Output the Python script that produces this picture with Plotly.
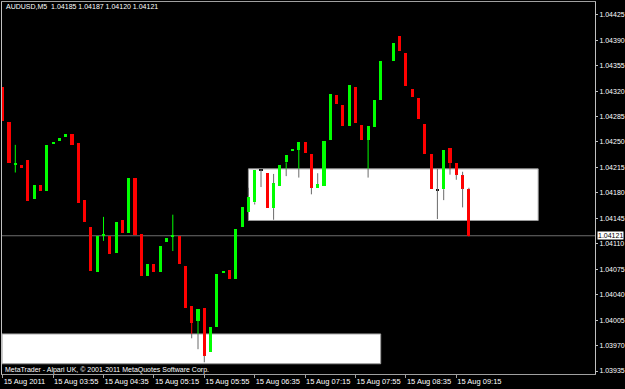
import plotly.graph_objects as go
from datetime import datetime, timedelta

# ---------------- data ----------------
symbol = "AUDUSD,M5"
start_time = datetime(2011, 8, 15, 3, 15)
bar_minutes = 5

opens = [1.04325, 1.04277, 1.04219, 1.04219, 1.04225, 1.04172, 1.04191, 1.04182, 1.04247, 1.04252,
         1.04257, 1.04261, 1.04248, 1.04170, 1.04133, 1.04071, 1.04121, 1.04121, 1.04097, 1.04142,
         1.04125, 1.04201, 1.04124, 1.04066, 1.04082, 1.04071, 1.04112, 1.04120, 1.04121, 1.04080,
         1.04025, 1.04004, 1.04021, 1.03961, 1.03996, 1.04071, 1.04074, 1.04061, 1.04133, 1.04154,
         1.04167, 1.04212, 1.04207, 1.04159, 1.04190, 1.04222, 1.04238, 1.04239, 1.04250, 1.04233,
         1.04187, 1.04189, 1.04253, 1.04315, 1.04301, 1.04272, 1.04326, 1.04274, 1.04253, 1.04271,
         1.04308, None, 1.04362, 1.04396, 1.04372, 1.04323, 1.04311, 1.04275, 1.04233, 1.04184,
         1.04185, 1.04242, 1.04221, 1.04204, 1.04185]
highs = [1.04325, 1.04277, 1.04246, 1.04219, 1.04225, 1.04191, 1.04191, 1.04246, 1.04250, 1.04256,
         1.04261, 1.04261, 1.04248, 1.04170, 1.04133, 1.04120, 1.04147, 1.04121, 1.04140, 1.04142,
         1.04201, 1.04201, 1.04124, 1.04082, 1.04082, 1.04107, 1.04118, 1.04150, 1.04121, 1.04080,
         1.04025, 1.04020, 1.04021, 1.03995, 1.04069, 1.04072, 1.04074, 1.04130, 1.04160, 1.04187,
         1.04212, 1.04212, 1.04207, 1.04206, 1.04219, 1.04232, 1.04239, 1.04250, 1.04250, 1.04233,
         1.04207, 1.04251, 1.04316, 1.04315, 1.04301, 1.04328, 1.04326, 1.04274, 1.04272, 1.04308,
         1.04362, None, 1.04386, 1.04396, 1.04372, 1.04323, 1.04311, 1.04275, 1.04233, 1.04213,
         1.04239, 1.04242, 1.04221, 1.04209, 1.04187]
lows = [1.04279, 1.04221, 1.04208, 1.04214, 1.04169, 1.04172, 1.04182, 1.04182, 1.04247, 1.04252,
        1.04257, 1.04246, 1.04166, 1.04140, 1.04073, 1.04071, 1.04114, 1.04096, 1.04097, 1.04125,
        1.04125, 1.04122, 1.04066, 1.04066, 1.04071, 1.04071, 1.04112, 1.04100, 1.04082, 1.04021,
        1.03980, 1.03965, 1.03947, 1.03961, 1.03996, 1.04071, 1.04061, 1.04061, 1.04133, 1.04154,
        1.04164, 1.04188, 1.04159, 1.04143, 1.04190, 1.04203, 1.04238, 1.04201, 1.04235, 1.04178,
        1.04187, 1.04189, 1.04253, 1.04302, 1.04272, 1.04272, 1.04276, 1.04253, 1.04201, 1.04271,
        1.04308, None, 1.04362, 1.04375, 1.04327, 1.04312, 1.04281, 1.04233, 1.04185, 1.04144,
        1.04170, 1.04205, 1.04198, 1.04160, 1.04120]
closes = [1.04279, 1.04221, 1.04220, 1.04214, 1.04169, 1.04191, 1.04182, 1.04246, 1.04250, 1.04256,
          1.04261, 1.04246, 1.04166, 1.04140, 1.04073, 1.04120, 1.04123, 1.04096, 1.04140, 1.04125,
          1.04201, 1.04122, 1.04066, 1.04082, 1.04071, 1.04107, 1.04118, 1.04121, 1.04082, 1.04021,
          1.04001, 1.04020, 1.03956, 1.03995, 1.04069, 1.04072, 1.04061, 1.04130, 1.04160, 1.04175,
          1.04212, 1.04212, 1.04159, 1.04193, 1.04219, 1.04232, 1.04239, 1.04250, 1.04235, 1.04187,
          1.04192, 1.04251, 1.04316, 1.04302, 1.04272, 1.04328, 1.04276, 1.04253, 1.04272, 1.04308,
          1.04362, None, 1.04386, 1.04375, 1.04327, 1.04312, 1.04281, 1.04233, 1.04185, 1.04184,
          1.04239, 1.04221, 1.04205, 1.04186, 1.04121]

bid = 1.04121

price_ticks = [round(1.04425 - 0.00035 * k, 5) for k in range(15)]
time_tick_bars = list(range(0, 73, 8))

# rectangle zones drawn on the chart (bar index span, price span)
zone_x0 = [39, None]
zone_x1 = [85, 60]
zone_top = [1.04213, 1.03986]
zone_bottom = [1.04142, 1.03945]

# ---------------- style ----------------
UP = "#00ff00"
DOWN = "#ff0000"
DOJI_IN_ZONE = "#141414"
WICK_IN_ZONE = "#6a6a6a"
TEXT = "#ffffff"
FONT = "Liberation Sans"
X_RANGE = [-0.111, 94.016]
Y_RANGE = [1.039309, 1.0444247]
MIN_BODY = 0.000016

n = len(opens)
xs = list(range(n))

time_labels = []
for b in time_tick_bars:
    t = start_time + timedelta(minutes=bar_minutes * b)
    time_labels.append("15 Aug 2011" if b == 0 else t.strftime("%d %b %H:%M"))

zx0 = [X_RANGE[0] if v is None else v for v in zone_x0]


def in_zone(i, p):
    for a, b, top, bot in zip(zx0, zone_x1, zone_top, zone_bottom):
        if a <= i <= b and bot <= p <= top:
            return True
    return False


# bodies
bx, by, bbase, bcol = [], [], [], []
for i in xs:
    o, c = opens[i], closes[i]
    if o is None:
        continue
    lo, hi = min(o, c), max(o, c)
    h = max(hi - lo, MIN_BODY)
    mid = (lo + hi) / 2
    bx.append(i)
    by.append(h)
    bbase.append(mid - h / 2)
    if c > o:
        bcol.append(UP)
    elif c < o:
        bcol.append(DOWN)
    else:
        bcol.append(DOJI_IN_ZONE if in_zone(i, o) else UP)

# wicks (split into the part over a zone and the part over the black background)
seg = {UP: ([], []), DOWN: ([], []), WICK_IN_ZONE: ([], [])}
for i in xs:
    o, c, h, l = opens[i], closes[i], highs[i], lows[i]
    if o is None:
        continue
    col = DOWN if c < o else UP
    for lo, hi in ((l, min(o, c)), (max(o, c), h)):
        if hi - lo <= 0:
            continue
        cuts = [lo, hi]
        for a, b, top, bot in zip(zx0, zone_x1, zone_top, zone_bottom):
            if a <= i <= b:
                for v in (top, bot):
                    if lo < v < hi:
                        cuts.append(v)
        cuts.sort()
        for p0, p1 in zip(cuts[:-1], cuts[1:]):
            key = WICK_IN_ZONE if in_zone(i, (p0 + p1) / 2) else col
            seg[key][0].extend([i, i, None])
            seg[key][1].extend([p0, p1, None])

fig = go.Figure()
for key in (UP, DOWN, WICK_IN_ZONE):
    fig.add_trace(go.Scatter(x=seg[key][0], y=seg[key][1], mode="lines",
                             line=dict(color=key, width=1), hoverinfo="skip"))
fig.add_trace(go.Bar(x=bx, y=by, base=bbase, width=0.5,
                     marker=dict(color=bcol, line=dict(width=0)), hoverinfo="skip"))

shapes = []
for a, b, top, bot in zip(zx0, zone_x1, zone_top, zone_bottom):
    shapes.append(dict(type="rect", xref="x", yref="y", x0=a, x1=b, y0=bot, y1=top,
                       fillcolor="#ffffff", line=dict(color="#9a9a9a", width=1), layer="below"))
shapes.append(dict(type="line", xref="paper", yref="y", x0=0, x1=1, y0=bid, y1=bid,
                   line=dict(color="#6e6e6e", width=1), layer="below"))

header = f"{symbol}  {opens[-1]:.5f} {highs[-1]:.5f} {lows[-1]:.5f} {closes[-1]:.5f}"
annotations = [
    dict(xref="paper", yref="paper", x=0, y=0.9866, xanchor="left", yanchor="middle",
         xshift=2, text=header, showarrow=False, font=dict(family=FONT, size=7, color=TEXT)),
    dict(xref="paper", yref="paper", x=0, y=0.012, xanchor="left", yanchor="middle",
         xshift=1, text="MetaTrader - Alpari UK, © 2001-2011 MetaQuotes Software Corp.",
         showarrow=False, font=dict(family=FONT, size=7, color=TEXT)),
    dict(xref="paper", yref="y", x=1, y=bid, xanchor="left", yanchor="middle", xshift=2,
         text=f"{bid:.5f}", showarrow=False, bgcolor="#ffffff", borderpad=0,
         font=dict(family=FONT, size=7, color="#000000")),
]

fig.update_layout(
    width=625, height=389,
    margin=dict(l=2, r=30, t=2, b=15),
    paper_bgcolor="#000000", plot_bgcolor="#000000",
    showlegend=False, bargap=0, barmode="overlay",
    shapes=shapes, annotations=annotations,
    font=dict(family=FONT, size=7.5, color=TEXT),
    xaxis=dict(range=X_RANGE, tickvals=time_tick_bars, ticktext=time_labels,
               tickangle=0, automargin=False,
               ticks="outside", ticklen=3, tickcolor="#a0a0a0",
               ticklabelposition="outside right",
               showline=True, linecolor="#a0a0a0", linewidth=1, mirror=True,
               showgrid=False, zeroline=False,
               tickfont=dict(family=FONT, size=7.5, color=TEXT)),
    yaxis=dict(range=Y_RANGE, side="right", tickvals=price_ticks,
               ticktext=[f"{v:.5f}" for v in price_ticks], automargin=False,
               ticks="outside", ticklen=2, tickcolor="#c0c0c0",
               showline=True, linecolor="#c0c0c0", linewidth=1, mirror=True,
               showgrid=False, zeroline=False,
               tickfont=dict(family=FONT, size=7, color=TEXT)),
)

fig.write_html("out.html")
